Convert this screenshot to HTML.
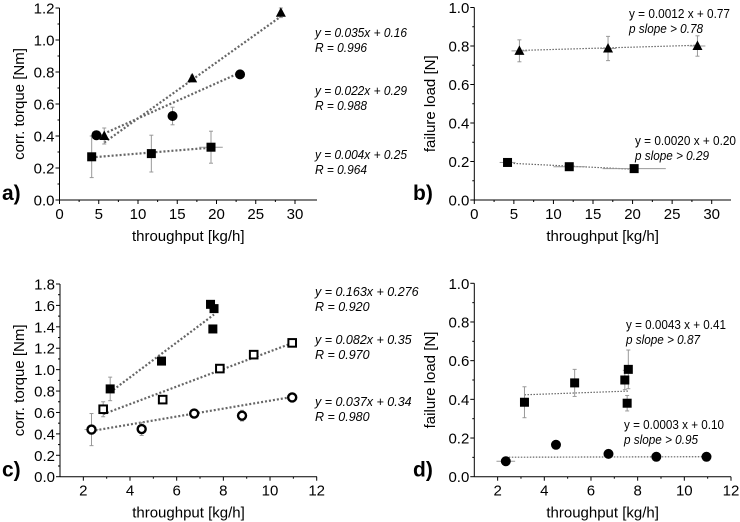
<!DOCTYPE html>
<html><head><meta charset="utf-8"><style>
body{margin:0;background:#fff;}
svg{display:block;font-family:"Liberation Sans",sans-serif;}
</style></head><body>
<svg id="fig" width="740" height="522" viewBox="0 0 740 522"></svg>
<script>
// Panel a data
const aTriX=[5.7,16.9,28.2], aTriY=[0.40,0.76,1.17], aTriE=[0.05,0.02,0.03];
const aCirX=[4.7,14.4,23.0], aCirY=[0.405,0.525,0.785], aCirE=[0.025,0.055,0.01];
const aSqX=[4.1,11.7,19.3], aSqY=[0.27,0.29,0.33], aSqE=[0.13,0.115,0.1];
const aFits=[[0.035,0.16],[0.022,0.29],[0.004,0.25]];
const aEqs=[["y = 0.035x + 0.16","R = 0.996"],["y = 0.022x + 0.29","R = 0.988"],["y = 0.004x + 0.25","R = 0.964"]];
const aXTicks=[0,5,10,15,20,25,30], aYTicks=[0,0.2,0.4,0.6,0.8,1.0,1.2];
// Panel b data
const bTriX=[5.7,16.9,28.2], bTriY=[0.775,0.787,0.80], bTriE=[0.057,0.063,0.053];
const bSqX=[4.2,12.0,20.2], bSqY=[0.195,0.173,0.163], bSqE=[0.01,0.01,0.01], bSqXE=[1,2,4];
const bFits=[[0.0012,0.77],[-0.002,0.20]];
const bEqs=[["y = 0.0012 x + 0.77","p slope > 0.78"],["y = 0.0020 x + 0.20","p slope > 0.29"]];
const bXTicks=[0,5,10,15,20,25,30], bYTicks=[0,0.2,0.4,0.6,0.8,1.0];
// Panel c data
const cFSqX=[3.15,5.35,7.45,7.6,7.55], cFSqY=[0.82,1.08,1.61,1.57,1.38];
const cOSqX=[2.85,5.4,7.85,9.3,10.95], cOSqY=[0.63,0.72,1.01,1.14,1.25];
const cOCiX=[2.35,4.5,6.75,8.8,10.95], cOCiY=[0.44,0.445,0.59,0.57,0.74];
const cFits=[[0.163,0.276],[0.082,0.35],[0.037,0.34]];
const cEqs=[["y = 0.163x + 0.276","R = 0.920"],["y = 0.082x + 0.35","R = 0.970"],["y = 0.037x + 0.34","R = 0.980"]];
const cXTicks=[2,4,6,8,10,12], cYTicks=[0,0.2,0.4,0.6,0.8,1.0,1.2,1.4,1.6,1.8];
// Panel d data
const dSqX=[3.15,5.3,7.45,7.6,7.55], dSqY=[0.385,0.485,0.50,0.555,0.38], dSqE=[0.08,0.07,0.05,0.1,0.04];
const dCiX=[2.35,4.5,6.75,8.8,10.95], dCiY=[0.08,0.165,0.118,0.103,0.103];
const dFits=[[0.0043,0.41],[0.0003,0.10]];
const dEqs=[["y = 0.0043 x + 0.41","p slope > 0.87"],["y = 0.0003 x + 0.10","p slope > 0.95"]];
const dXTicks=[2,4,6,8,10,12], dYTicks=[0,0.2,0.4,0.6,0.8,1.0];

const NS="http://www.w3.org/2000/svg", svg=document.getElementById('fig');
function mk(tag,attrs,parent,text){const e=document.createElementNS(NS,tag);for(const k in attrs)e.setAttribute(k,attrs[k]);if(text!==undefined)e.textContent=text;(parent||svg).appendChild(e);return e;}

function panel(o){
  const g=mk('g',{});
  
  
  const sx=v=>o.x0+(v-o.xmin)*(o.x1-o.x0)/(o.xmax-o.xmin);
  const sy=v=>o.y0-(v-o.ymin)*(o.y0-o.y1)/(o.ymax-o.ymin);
  o.sx=sx;o.sy=sy;
  const ax=mk('line',{x1:o.x0,y1:o.y0,x2:o.xe,y2:o.y0,stroke:'#000','stroke-width':1},g);
  
  const ay=mk('line',{x1:o.x0,y1:o.y0,x2:o.x0,y2:o.y1,stroke:'#000','stroke-width':1},g);
  
  o.xt.forEach((t,i)=>{const X=sx(t);mk('line',{x1:X,y1:o.y0,x2:X,y2:o.y0+4,stroke:'#000'},g);
    if(i<o.xt.length-1){const m=sx((t+o.xt[i+1])/2);mk('line',{x1:m,y1:o.y0,x2:m,y2:o.y0+2,stroke:'#000'},g);}
    const tl=mk('text',{x:X,y:o.y0+19,'text-anchor':'middle','font-size':15},g,String(t));
    });
  o.yt.forEach((t,i)=>{const Y=sy(t);mk('line',{x1:o.x0,y1:Y,x2:o.x0-4,y2:Y,stroke:'#000'},g);
    if(i<o.yt.length-1){const m=sy((t+o.yt[i+1])/2);mk('line',{x1:o.x0,y1:m,x2:o.x0-2,y2:m,stroke:'#000'},g);}
    const tl=mk('text',{x:o.x0-5,y:Y+5.5,'text-anchor':'end','font-size':15},g,t.toFixed(1));
    });
  const xt=mk('text',{x:(o.x0+o.xe)/2,y:o.y0+41,'text-anchor':'middle','font-size':15},g,'throughput [kg/h]');
  
  const yc=(o.y0+o.y1)/2;
  const yt=mk('text',{x:o.ytx,y:yc,'text-anchor':'middle','font-size':15,transform:`rotate(-90 ${o.ytx} ${yc})`},g,o.ytitle);
  
  const pl=mk('text',{x:o.plx,y:o.y0,'font-size':21,'font-weight':'bold'},g,o.id+')');
  
  o.g=g;return o;
}
function fit(o,f,xa,thin){const lo=Math.min(...xa),hi=Math.max(...xa);
  const l=mk('line',{x1:o.sx(lo),y1:o.sy(f[0]*lo+f[1]),x2:o.sx(hi),y2:o.sy(f[0]*hi+f[1]),stroke:'#666','stroke-width':thin?1.2:2.2,'stroke-dasharray':thin?'1.5,1.5':'2,2'},o.g);
  }
function err(o,xa,ya,ea,xe){xa.forEach((x,i)=>{const X=o.sx(x);
  if(ea){const t=o.sy(ya[i]+ea[i]),b=o.sy(ya[i]-ea[i]);
    mk('line',{x1:X,y1:t,x2:X,y2:b,stroke:'#999'},o.g);mk('line',{x1:X-2,y1:t,x2:X+2,y2:t,stroke:'#999'},o.g);mk('line',{x1:X-2,y1:b,x2:X+2,y2:b,stroke:'#999'},o.g);}
  if(xe){const Y=o.sy(ya[i]);mk('line',{x1:o.sx(x-xe[i]),y1:Y,x2:o.sx(x+xe[i]),y2:Y,stroke:'#999'},o.g);}
});}
function pts(o,xa,ya,shape,name){xa.forEach((x,i)=>{const X=o.sx(x),Y=o.sy(ya[i]);let e;
  if(shape==='tri')e=mk('polygon',{points:`${X},${Y-5.5} ${X-5},${Y+4} ${X+5},${Y+4}`,fill:'#000'},o.g);
  else if(shape==='sq')e=mk('rect',{x:X-4.5,y:Y-4.5,width:9,height:9,fill:'#000'},o.g);
  else if(shape==='osq')e=mk('rect',{x:X-3.8,y:Y-3.8,width:7.6,height:7.6,fill:'#fff',stroke:'#000','stroke-width':2},o.g);
  else if(shape==='oci')e=mk('circle',{cx:X,cy:Y,r:4,fill:'#fff',stroke:'#000','stroke-width':2.4},o.g);
  else e=mk('circle',{cx:X,cy:Y,r:5,fill:'#000'},o.g);
  });}
function eqs(o,list,pos,italicFirst,w1,w2){list.forEach((p,i)=>{
  const a=mk('text',{x:pos[i][0],y:pos[i][1],'font-size':12.5,'font-style':italicFirst?'italic':'normal',textLength:w1,lengthAdjust:'spacingAndGlyphs'},o.g,p[0]);
  
  const b=mk('text',{x:pos[i][0],y:pos[i][1]+15,'font-size':12.5,'font-style':'italic',textLength:w2,lengthAdjust:'spacingAndGlyphs'},o.g,p[1]);
  });}

// a
const A=panel({id:'a',x0:59.5,x1:295,xmin:0,xmax:30,xe:317,y0:200,y1:8,ymin:0,ymax:1.2,xt:aXTicks,yt:aYTicks,ytitle:'corr. torque [Nm]',ytx:24,plx:2});
fit(A,aFits[0],aTriX);fit(A,aFits[1],aCirX);fit(A,aFits[2],aSqX);
err(A,aTriX,aTriY,aTriE);err(A,aCirX,aCirY,aCirE);err(A,aSqX,aSqY,aSqE,[0.3,0.3,1.5]);
pts(A,aTriX,aTriY,'tri','triangle-point');pts(A,aCirX,aCirY,'ci','circle-point');pts(A,aSqX,aSqY,'sq','square-point');
eqs(A,aEqs,[[315,37],[315,95],[315,159]],true,92,52);
// b
const B=panel({id:'b',x0:474.3,x1:711.7,xmin:0,xmax:30,xe:731,y0:200,y1:7.5,ymin:0,ymax:1.0,xt:bXTicks,yt:bYTicks,ytitle:'failure load [N]',ytx:435,plx:413});
fit(B,bFits[0],bTriX,true);fit(B,bFits[1],bSqX,true);
err(B,bTriX,bTriY,bTriE,[1,1,1]);err(B,bSqX,bSqY,bSqE,bSqXE);
pts(B,bTriX,bTriY,'tri','triangle-point');pts(B,bSqX,bSqY,'sq','square-point');
eqs(B,bEqs,[[629,18],[635,145]],false,101,74);
// c
const C=panel({id:'c',x0:60,x1:316.7,xmin:1,xmax:12,xe:317,y0:476.7,y1:284,ymin:0,ymax:1.8,xt:cXTicks,yt:cYTicks,ytitle:'corr. torque [Nm]',ytx:24,plx:2});
fit(C,cFits[0],cFSqX);fit(C,cFits[1],cOSqX);fit(C,cFits[2],cOCiX);
err(C,[3.15],[0.82],[0.11]);err(C,[2.85],[0.63],[0.07]);err(C,[2.35,4.5,8.8],[0.44,0.445,0.57],[0.15,0.06,0.05],[0.3,0,0]);
pts(C,cFSqX,cFSqY,'sq','filled-square-point');pts(C,cOSqX,cOSqY,'osq','open-square-point');pts(C,cOCiX,cOCiY,'oci','open-circle-point');
eqs(C,cEqs,[[315,296],[315,344],[315,406]],true,null,null);
// d
const D=panel({id:'d',x0:474.3,x1:731,xmin:1,xmax:12,xe:731,y0:476.7,y1:283.3,ymin:0,ymax:1.0,xt:dXTicks,yt:dYTicks,ytitle:'failure load [N]',ytx:435,plx:413});
fit(D,dFits[0],dSqX,true);fit(D,dFits[1],dCiX,true);
err(D,dSqX,dSqY,dSqE);err(D,[2.35],[0.08],null,[0.4]);
pts(D,dSqX,dSqY,'sq','square-point');pts(D,dCiX,dCiY,'ci','circle-point');
eqs(D,dEqs,[[626,329],[624,429]],false,100,74);
// strip empty textLength attributes
document.querySelectorAll('text[textLength="null"]').forEach(t=>{t.removeAttribute('textLength');t.removeAttribute('lengthAdjust');});
</script>
</body></html>
